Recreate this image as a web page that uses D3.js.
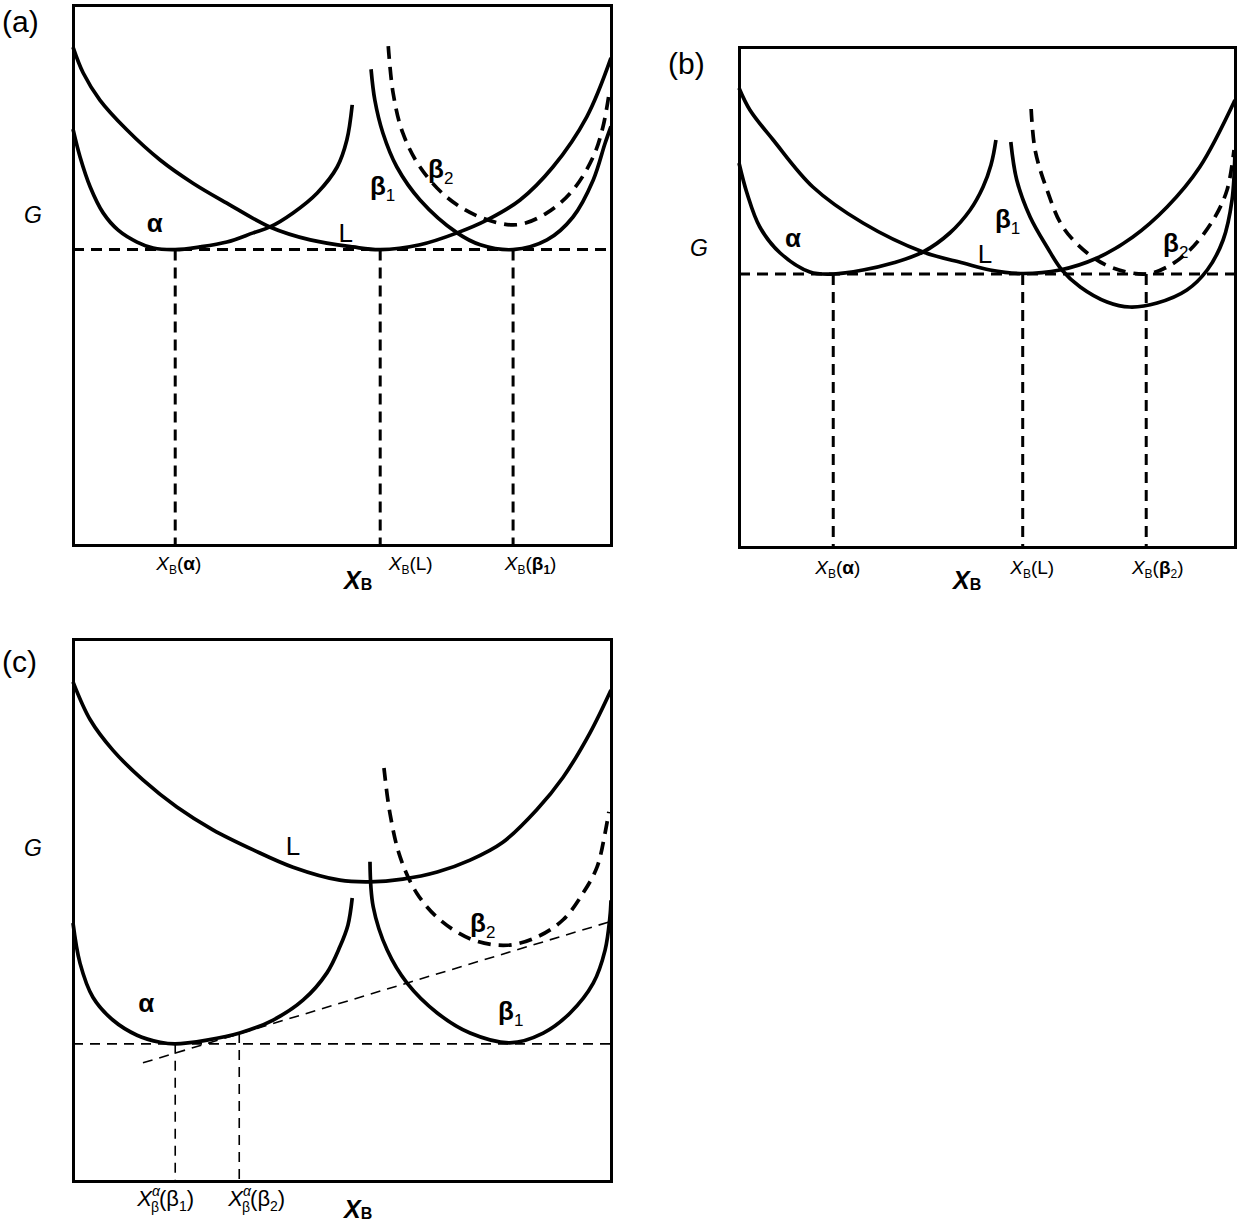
<!DOCTYPE html>
<html lang="en">
<head>
<meta charset="UTF-8">
<title>Gibbs energy curves</title>
<style>
  body{margin:0;background:#fff;}
  svg{display:block;font-family:"Liberation Sans",Arial,sans-serif;}
  .frame path.domain{stroke:#000;stroke-width:3;stroke-linecap:square;}
  .curve{fill:none;stroke:#000;stroke-width:3.7;}
  .meta{fill:none;stroke:#000;stroke-width:3.7;stroke-dasharray:13,8;}
  .tie{stroke:#000;stroke-width:3;stroke-dasharray:11,7;}
  .tie.thin{stroke-width:1.6;stroke-dasharray:10,7;}
  .lbl{font-size:26px;fill:#000;}
</style>
</head>
<body>
<svg width="1238" height="1223"></svg>
<script src="https://cdn.jsdelivr.net/npm/d3@7"></script>
<script>
// composition x in % (0-100), G in arbitrary units (0 = frame bottom, 100 = frame top)

// ---- panel (a)
var a_alpha = [[0,77],[1.3,71.9],[3.2,66.3],[5.6,61.5],[8.4,58.3],[11.9,56.1],[14.9,55.0],[19.0,54.7],
  [23.6,55.2],[28.6,56.1],[33.5,57.8],[36.6,58.9],[40.9,61.5],[45.4,65.2],[49.1,70.0],[50.9,75.0],[51.9,81.5]];
var a_liquid = [[0,92.2],[1.9,87.4],[5.0,82.4],[10.0,76.9],[16.2,71.3],[22.3,67.0],[28.6,63.3],[36.6,58.9],
  [44.1,56.5],[52.0,55.2],[57.1,54.7],[64.5,55.6],[71.4,57.8],[77.0,60.2],[83.1,63.9],[89.2,70.0],[95.5,79.3],[100,90.2]];
var a_beta1 = [[55.4,88.1],[56.1,82.4],[57.6,76.3],[60.2,70.0],[64.5,63.9],[71.4,57.8],[75.7,55.6],[81.8,54.7],
  [88.1,56.5],[92.9,60.7],[96.7,67.6],[98.9,74.4],[100,77.5]];
var a_beta2 = [[58.6,92.4],[59.5,83.7],[61.3,76.3],[64.5,70.0],[69.5,64.4],[75.7,60.7],[82.5,59.3],[88.1,61.5],
  [92.9,65.7],[96.7,71.9],[98.5,77.4],[99.6,83.3]];
var a_tieX = [19.0, 57.1, 81.8];
var a_tieG = 54.7;
var a_tickPhase = ["α", "L", "β"];
var a_tickSub = ["", "", "1"];

// ---- panel (b)
var b_alpha = [[0,76.8],[1.6,70.8],[4.2,64.0],[8.3,58.8],[14.3,55.0],[19.0,54.6],[25.0,55.4],[31.0,56.8],
  [37.1,59.0],[42.5,62.8],[46.6,67.4],[49.2,72.0],[50.8,76.4],[51.8,81.4]];
var b_liquid = [[0,91.8],[2.2,87.4],[6.9,81.4],[14.9,72.0],[25.0,64.8],[37.1,59.0],[45.2,56.8],[50.6,55.4],
  [56.7,54.7],[64.7,55.4],[72.2,57.8],[79.4,62.0],[86.3,68.0],[92.9,76.0],[100,89.4]];
var b_beta1 = [[54.8,81.0],[56.0,73.4],[58.7,66.0],[62.1,60.0],[65.1,55.4],[68.8,52.0],[74.2,49.0],[78.8,48.0],
  [84.3,48.8],[90.3,51.4],[94.4,55.4],[97.6,61.4],[99.4,69.4],[100,79.4]];
var b_beta2 = [[58.9,87.6],[59.7,79.4],[62.1,71.4],[65.3,64.0],[70.2,58.8],[75.4,55.8],[82.1,54.6],[86.3,56.0],
  [90.9,59.4],[95.6,65.4],[98.4,71.4],[99.8,79.4]];
var b_tieX = [19.0, 57.2, 82.1];
var b_tieG = 54.6;
var b_tickPhase = ["α", "L", "β"];
var b_tickSub = ["", "", "2"];

// ---- panel (c)
var c_liquid = [[0,92.1],[3.2,85.1],[7.4,79.5],[13.0,74.0],[19.3,69.0],[26.0,64.8],[33.5,61.1],[40.9,57.9],
  [49.6,55.5],[55.2,55.2],[61.3,55.7],[67.7,57.0],[73.8,59.2],[79.9,62.5],[86.2,68.5],[91.1,74.5],[96.1,82.7],[100,90.6]];
var c_alpha = [[0,47.6],[1.3,40.2],[3.7,33.9],[7.4,29.7],[11.9,26.9],[16.2,25.6],[19.0,25.3],[24.9,26.0],
  [31.0,27.3],[37.2,29.7],[42.8,33.4],[47.2,38.4],[49.6,43.2],[51.1,47.2],[51.9,52.2]];
var c_beta1 = [[55.2,58.9],[55.8,50.6],[58.4,42.6],[62.1,36.5],[67.7,31.0],[73.8,27.3],[81.2,25.5],[87.4,27.3],
  [92.4,31.0],[96.7,36.5],[98.9,42.6],[99.8,48.7],[100,51.8]];
var c_beta2 = [[57.8,76.2],[58.9,67.9],[60.8,59.8],[63.9,53.1],[68.2,48.2],[74.3,44.5],[80.7,43.5],[86.2,45.0],
  [91.1,48.2],[94.8,53.1],[97.4,57.9],[98.9,64.2],[99.6,68.1]];
var c_slopeX = [13.0, 100];
var c_slopeG = [21.8, 47.9];
var c_tieX = [19.0, 30.9];
var c_tieTop = [25.3, 27.3];
var c_tieG = 25.3;
var c_tickSub = ["1", "2"];

var svg = d3.select("svg");

// X_B(phase) style tick label
function xbLabel(t, phase, sub, boldPhase, boldSub){
    t.attr("font-size", 19);
    t.append("tspan").attr("font-style", "italic").text("X");
    t.append("tspan").attr("font-size", 12).attr("dy", 4).text("B");
    t.append("tspan").attr("dy", -4).text("(");
    t.append("tspan").attr("font-weight", boldPhase ? "bold" : null).text(phase);
    if(sub){
        t.append("tspan").attr("font-size", 12).attr("font-weight", boldSub ? "bold" : null)
            .attr("dy", 4).text(sub);
        t.append("tspan").attr("dy", -4).text(")");
    } else {
        t.append("tspan").text(")");
    }
}

// X^alpha_beta(beta_n) tick label for panel (c)
function xabLabel(t, sub){
    t.attr("font-size", 22);
    t.append("tspan").attr("font-style", "italic").text("X");
    t.append("tspan").attr("font-size", 14).attr("font-style", "italic").attr("dy", -10).text("α");
    t.append("tspan").attr("font-size", 14).attr("dx", -9).attr("dy", 16).text("β");
    t.append("tspan").attr("dy", -6).text("(β");
    t.append("tspan").attr("font-size", 14).attr("dy", 5).text(sub);
    t.append("tspan").attr("dy", -5).text(")");
}

var panels = [
    {left:73, top:5, w:538, h:540, letter:"(a)", letterY:27, thin:false,
     curves:[[a_alpha,"curve"],[a_liquid,"curve"],[a_beta1,"curve"],[a_beta2,"meta"]],
     tieX:a_tieX, tieTop:a_tieX.map(function(){ return a_tieG; }), tieG:a_tieG,
     tickBase:25, tickDx:[3,30,17],
     tick:function(t,i){ xbLabel(t, a_tickPhase[i], a_tickSub[i], i !== 1, true); },
     titleX:53.0, titleY:44, gX:-40, gG:59.6,
     labels:[{t:"α",x:15.2,g:58.0,anchor:"middle",bold:true},
             {t:"L",x:50.7,g:56.1,anchor:"middle"},
             {t:"β",sub:"1",x:55.2,g:64.8,bold:true},
             {t:"β",sub:"2",x:66.0,g:68.0,bold:true}]},
    {left:739, top:47, w:496, h:500, letter:"(b)", letterY:27, thin:false,
     curves:[[b_alpha,"curve"],[b_liquid,"curve"],[b_beta1,"curve"],[b_beta2,"meta"]],
     tieX:b_tieX, tieTop:b_tieX.map(function(){ return b_tieG; }), tieG:b_tieG,
     tickBase:27, tickDx:[4,9,11],
     tick:function(t,i){ xbLabel(t, b_tickPhase[i], b_tickSub[i], i !== 1, false); },
     titleX:46.0, titleY:42, gX:-40, gG:58.2,
     labels:[{t:"α",x:10.9,g:60.0,anchor:"middle",bold:true},
             {t:"L",x:49.6,g:56.8,anchor:"middle"},
             {t:"β",sub:"1",x:51.6,g:63.8,bold:true},
             {t:"β",sub:"2",x:85.5,g:59.0,bold:true}]},
    {left:73, top:639, w:538, h:542, letter:"(c)", letterY:33, thin:true,
     curves:[[c_liquid,"curve"],[c_alpha,"curve"],[c_beta1,"curve"],[c_beta2,"meta"]],
     tieX:c_tieX, tieTop:c_tieTop, tieG:c_tieG,
     tickBase:25, tickDx:[-10,17],
     tick:function(t,i){ xabLabel(t, c_tickSub[i]); },
     titleX:53.0, titleY:37, gX:-40, gG:60.0,
     labels:[{t:"L",x:40.9,g:60.1,anchor:"middle"},
             {t:"α",x:13.6,g:31.2,anchor:"middle",bold:true},
             {t:"β",sub:"2",x:73.8,g:45.9,bold:true},
             {t:"β",sub:"1",x:79.0,g:29.7,bold:true}]}
];

panels.forEach(function(p){
    var x = d3.scaleLinear().domain([0,100]).range([0,p.w]);
    var y = d3.scaleLinear().domain([0,100]).range([p.h,0]);
    var g = svg.append("g").attr("transform","translate("+p.left+","+p.top+")");

    var line = d3.line()
        .x(function(d){ return x(d[0]); })
        .y(function(d){ return y(d[1]); })
        .curve(d3.curveCatmullRom.alpha(0.5));

    // common tangent level
    g.append("line").attr("class", p.thin ? "tie thin" : "tie")
        .attr("x1", x(0)).attr("x2", x(100))
        .attr("y1", y(p.tieG)).attr("y2", y(p.tieG));

    // drop lines to the composition axis
    g.selectAll(".drop").data(p.tieX).enter().append("line")
        .attr("class", p.thin ? "tie thin" : "tie")
        .attr("x1", function(d){ return x(d); }).attr("x2", function(d){ return x(d); })
        .attr("y1", function(d,i){ return y(p.tieTop[i]); }).attr("y2", y(0));

    if(p.thin){
        g.append("line").attr("class","tie thin")
            .attr("x1", x(c_slopeX[0])).attr("y1", y(c_slopeG[0]))
            .attr("x2", x(c_slopeX[1])).attr("y2", y(c_slopeG[1]));
    }

    p.curves.forEach(function(c){
        g.append("path").datum(c[0]).attr("class", c[1]).attr("d", line);
    });

    // frame from axes
    g.append("g").attr("class","frame").call(d3.axisTop(x).tickValues([]).tickSizeOuter(0));
    g.append("g").attr("class","frame").call(d3.axisLeft(y).tickValues([]).tickSizeOuter(0));
    g.append("g").attr("class","frame").attr("transform","translate("+p.w+",0)")
        .call(d3.axisRight(y).tickValues([]).tickSizeOuter(0));
    var bx = g.append("g").attr("class","frame").attr("transform","translate(0,"+p.h+")")
        .call(d3.axisBottom(x).tickValues(p.tieX).tickSize(0).tickSizeOuter(0).tickFormat(""));
    bx.attr("font-family", null).attr("font-size", null);
    bx.selectAll(".tick text")
        .attr("y", p.tickBase).attr("dy", null)
        .attr("x", function(d,i){ return p.tickDx[i]; })
        .each(function(d,i){ p.tick(d3.select(this), i); });

    // axis title X_B
    var tt = g.append("text").attr("x", x(p.titleX)).attr("y", p.h + p.titleY)
        .attr("text-anchor","middle").attr("font-weight","bold");
    tt.append("tspan").attr("font-size", 25).attr("font-style","italic").text("X");
    tt.append("tspan").attr("font-size", 16).attr("dy", 1).text("B");

    // G label
    g.append("text").attr("x", p.gX).attr("y", y(p.gG)).attr("text-anchor","middle")
        .attr("font-size", 23).attr("font-style","italic").text("G");

    // panel letter
    g.append("text").attr("x", -71).attr("y", p.letterY).attr("font-size", 30).text(p.letter);

    // curve labels
    p.labels.forEach(function(l){
        var t = g.append("text").attr("class","lbl")
            .attr("x", x(l.x)).attr("y", y(l.g))
            .attr("text-anchor", l.anchor || "start");
        t.append("tspan").attr("font-weight", l.bold ? "bold" : null).text(l.t);
        if(l.sub) t.append("tspan").attr("font-size", 17).attr("dy", 6).text(l.sub);
    });
});
</script>
</body>
</html>
